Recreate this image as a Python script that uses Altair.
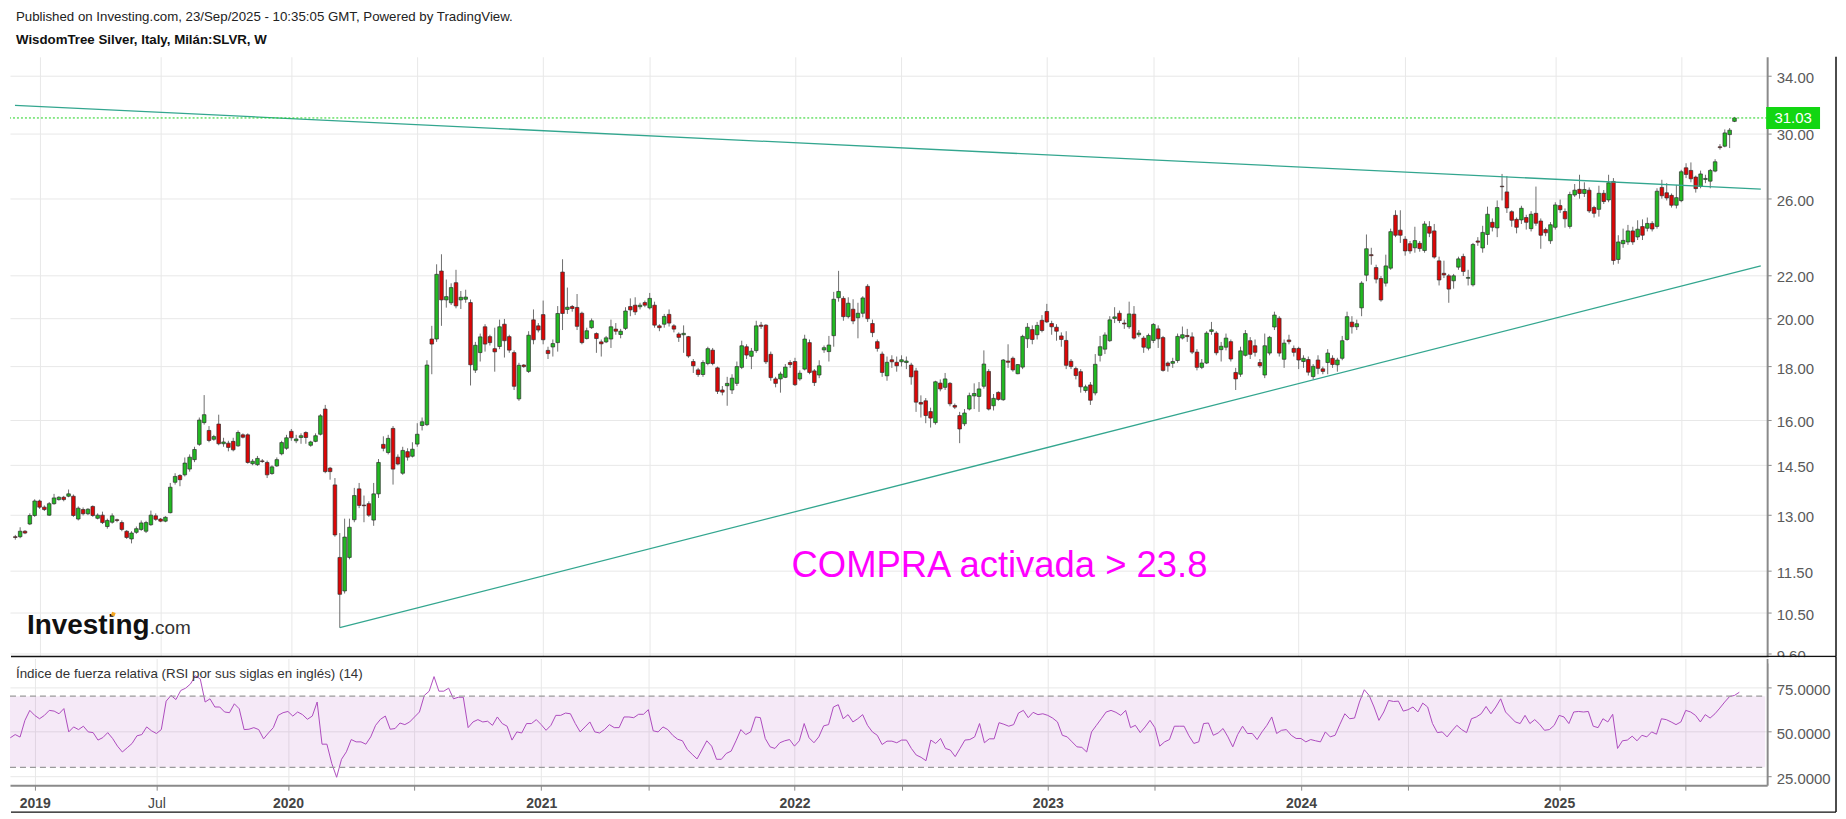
import altair as alt
import pandas as pd

# ---------------- data ----------------
FIRST_WEEK = "2018-12-03"

OPEN = [
    12.40, 12.40, 12.55, 12.75, 12.99, 13.41, 13.23, 13.00, 13.33, 13.45,
    13.52, 13.55, 13.55, 12.89, 13.16, 13.04, 13.25, 12.91, 13.00, 12.68,
    12.80, 12.87, 12.79, 12.55, 12.34, 12.52, 12.60, 12.55, 12.73, 12.98,
    12.89, 12.83, 13.07, 13.97, 14.18, 14.20, 14.38, 14.68, 15.18, 15.92,
    15.65, 15.35, 15.87, 15.20, 15.22, 15.28, 15.13, 15.50, 15.50, 14.55,
    14.52, 14.64, 14.59, 14.24, 14.48, 14.87, 15.05, 15.62, 15.30, 15.41,
    15.58, 15.15, 15.28, 15.52, 16.40, 14.41, 13.89, 11.85, 11.01, 11.85,
    12.87, 13.77, 13.29, 13.33, 12.86, 13.62, 15.18, 14.91, 15.72, 14.76,
    14.25, 14.94, 14.79, 15.19, 15.82, 15.85, 19.12, 19.12, 22.19, 20.83,
    20.70, 21.63, 20.83, 20.86, 20.71, 17.86, 18.56, 19.64, 19.22, 18.72,
    18.81, 19.75, 19.22, 18.56, 16.77, 18.06, 17.81, 19.94, 19.68, 20.17,
    18.65, 18.79, 18.97, 22.14, 20.40, 20.53, 20.49, 20.23, 19.14, 19.60,
    19.35, 19.00, 19.00, 19.12, 19.54, 19.31, 19.57, 20.53, 20.59, 20.52,
    20.71, 20.47, 20.59, 19.68, 19.75, 20.18, 19.68, 19.33, 19.30, 19.22,
    18.20, 17.87, 17.69, 18.12, 18.66, 17.95, 17.10, 17.26, 17.10, 17.35,
    17.97, 18.80, 18.41, 18.64, 19.71, 19.71, 18.49, 17.52, 17.52, 17.58,
    18.16, 18.20, 17.52, 17.90, 18.97, 17.83, 17.67, 18.67, 18.60, 19.26,
    20.93, 20.90, 20.08, 20.41, 20.03, 20.23, 21.46, 19.78, 19.01, 18.50,
    17.64, 18.27, 18.17, 18.19, 18.16, 18.06, 17.83, 16.64, 16.70, 16.31,
    15.92, 17.36, 17.20, 17.35, 16.53, 16.17, 15.88, 16.40, 16.88, 16.86,
    17.24, 17.81, 16.52, 17.01, 16.74, 18.22, 18.33, 17.72, 17.98, 19.13,
    19.52, 19.30, 19.92, 20.31, 19.78, 19.62, 19.25, 19.06, 18.21, 17.92,
    17.80, 17.08, 17.29, 16.99, 18.45, 18.70, 19.05, 20.00, 20.23, 19.80,
    19.64, 20.19, 19.30, 19.16, 18.74, 19.06, 19.55, 19.18, 18.14, 18.13,
    18.24, 19.16, 19.27, 19.21, 18.58, 17.97, 18.14, 19.44, 19.37, 18.68,
    18.78, 19.01, 17.77, 17.70, 18.45, 19.05, 18.84, 18.16, 17.67, 18.54,
    19.63, 20.01, 18.29, 19.08, 18.73, 18.73, 18.20, 18.28, 17.61, 18.26,
    17.91, 18.16, 18.33, 18.07, 18.33, 19.10, 19.84, 19.64, 20.47, 21.99,
    23.00, 22.36, 21.83, 21.61, 22.33, 25.07, 24.27, 23.79, 23.56, 23.35,
    23.58, 23.21, 24.46, 24.23, 22.69, 22.08, 21.96, 21.72, 22.38, 22.91,
    21.84, 21.53, 23.70, 23.34, 24.04, 24.69, 24.39, 26.72, 26.39, 25.27,
    24.85, 24.82, 24.95, 24.35, 25.18, 24.76, 24.30, 23.71, 24.42, 25.61,
    25.28, 24.47, 26.21, 26.54, 26.30, 26.49, 25.50, 25.40, 26.31, 25.93,
    27.00, 22.76, 23.56, 23.65, 24.23, 23.91, 24.46, 24.37, 24.63, 24.47,
    26.65, 26.34, 26.19, 25.63, 25.89, 27.82, 27.66, 27.26, 26.71, 27.12,
    27.02, 27.62, 29.13, 29.17, 29.92, 30.80,
]

HIGH = [
    12.45, 12.66, 12.58, 13.05, 13.46, 13.45, 13.28, 13.38, 13.62, 13.55,
    13.56, 13.75, 13.60, 13.25, 13.22, 13.20, 13.28, 13.05, 13.10, 12.90,
    13.05, 12.90, 12.85, 12.58, 12.55, 12.68, 12.85, 12.84, 13.13, 13.05,
    12.92, 12.97, 13.95, 14.25, 14.22, 14.75, 14.85, 15.10, 16.10, 16.91,
    15.80, 15.50, 16.20, 15.40, 15.30, 15.40, 15.65, 15.55, 15.55, 14.70,
    14.80, 14.70, 14.65, 14.50, 14.75, 15.30, 15.50, 15.70, 15.50, 15.55,
    15.62, 15.30, 15.55, 16.22, 16.55, 14.45, 14.10, 12.50, 12.90, 12.90,
    13.80, 13.95, 13.57, 13.40, 13.95, 14.70, 15.45, 15.50, 15.80, 14.85,
    15.10, 15.05, 15.25, 15.90, 16.10, 18.25, 19.68, 22.52, 23.02, 21.78,
    21.60, 22.25, 21.24, 21.30, 20.85, 19.00, 19.35, 19.75, 19.30, 19.60,
    19.95, 19.98, 19.30, 18.65, 18.15, 18.10, 19.45, 20.40, 19.80, 20.80,
    18.80, 19.10, 20.55, 22.77, 21.40, 20.60, 21.10, 20.30, 19.60, 20.00,
    19.40, 19.10, 19.25, 19.95, 19.80, 19.55, 20.50, 20.90, 20.95, 20.70,
    20.80, 21.15, 20.75, 19.75, 20.20, 20.40, 19.75, 19.40, 19.70, 19.25,
    18.30, 17.95, 18.25, 18.80, 18.75, 18.00, 17.25, 17.60, 17.70, 18.20,
    19.05, 18.90, 18.75, 19.90, 19.85, 19.75, 18.60, 17.60, 17.80, 18.10,
    18.25, 18.35, 17.85, 19.30, 19.10, 17.90, 18.25, 18.85, 19.25, 21.20,
    22.20, 21.00, 20.95, 20.86, 20.70, 21.00, 21.56, 19.95, 19.10, 18.60,
    18.40, 18.45, 18.40, 18.45, 18.40, 18.15, 17.95, 16.90, 16.80, 16.45,
    17.45, 17.50, 17.75, 17.40, 16.60, 16.30, 16.40, 17.00, 17.35, 17.40,
    18.65, 17.90, 16.95, 17.05, 18.30, 18.90, 18.40, 18.10, 19.30, 19.80,
    19.70, 19.85, 20.15, 20.65, 19.90, 19.75, 19.40, 19.45, 18.30, 18.00,
    17.90, 17.30, 17.40, 18.50, 19.25, 19.40, 20.10, 20.50, 20.35, 19.95,
    20.75, 20.55, 19.50, 19.25, 19.35, 19.80, 19.70, 19.25, 18.20, 18.35,
    19.35, 19.65, 19.55, 19.40, 18.70, 18.30, 19.45, 19.85, 19.45, 19.00,
    19.35, 19.10, 17.95, 18.80, 19.50, 19.20, 19.10, 18.30, 19.35, 19.25,
    20.30, 20.10, 19.10, 19.30, 18.85, 18.80, 18.45, 18.40, 18.10, 18.45,
    18.00, 18.70, 18.45, 18.35, 19.25, 20.30, 20.10, 19.95, 21.70, 24.04,
    23.35, 22.50, 21.95, 23.00, 24.35, 25.35, 25.35, 23.95, 23.70, 24.45,
    23.70, 24.75, 24.75, 24.60, 22.90, 22.70, 22.05, 22.05, 22.90, 23.05,
    22.25, 23.60, 23.90, 24.50, 25.55, 24.90, 25.90, 27.45, 27.32, 25.35,
    24.95, 25.60, 25.10, 25.30, 26.70, 24.90, 24.40, 24.70, 25.80, 25.95,
    25.45, 26.40, 26.85, 27.40, 26.95, 26.65, 25.60, 26.75, 26.50, 27.40,
    27.20, 24.00, 24.35, 24.55, 24.45, 24.80, 24.85, 24.95, 24.75, 26.60,
    27.10, 26.90, 26.30, 26.80, 27.70, 28.10, 28.15, 27.35, 27.65, 27.40,
    27.75, 28.35, 29.30, 30.26, 30.35, 31.10,
]

LOW = [
    12.32, 12.36, 12.47, 12.72, 12.95, 13.18, 13.12, 12.98, 13.30, 13.42,
    13.40, 13.52, 12.95, 12.85, 12.99, 13.00, 12.95, 12.88, 12.75, 12.62,
    12.76, 12.80, 12.55, 12.34, 12.22, 12.48, 12.56, 12.50, 12.70, 12.84,
    12.80, 12.80, 13.05, 13.90, 13.85, 14.15, 14.30, 14.60, 15.13, 15.85,
    15.25, 15.30, 15.15, 15.10, 14.95, 14.95, 15.10, 15.38, 14.55, 14.50,
    14.48, 14.58, 14.10, 14.20, 14.45, 14.82, 15.00, 15.30, 15.22, 15.20,
    15.20, 15.10, 15.25, 15.48, 14.25, 14.05, 12.40, 10.16, 10.95, 11.80,
    12.80, 13.20, 12.80, 12.95, 12.70, 13.50, 14.95, 14.85, 13.90, 14.50,
    14.20, 14.65, 14.75, 15.10, 15.65, 15.80, 17.70, 19.00, 19.68, 20.48,
    20.60, 20.45, 20.42, 20.70, 17.27, 17.75, 18.20, 18.60, 18.85, 17.80,
    18.70, 18.36, 18.55, 17.10, 16.70, 17.95, 17.75, 18.90, 19.40, 18.90,
    18.30, 18.40, 18.60, 19.50, 20.20, 20.30, 19.50, 18.90, 19.10, 19.55,
    18.55, 18.40, 18.95, 18.75, 19.30, 19.15, 19.50, 20.10, 20.15, 20.40,
    20.50, 20.40, 19.60, 19.45, 19.60, 19.65, 19.40, 19.00, 18.55, 18.35,
    17.75, 17.60, 17.60, 18.05, 18.05, 16.95, 16.90, 16.52, 16.95, 17.25,
    17.90, 18.30, 17.90, 18.55, 19.55, 18.10, 17.45, 17.20, 17.00, 17.55,
    17.95, 17.25, 17.45, 17.85, 17.70, 17.25, 17.55, 18.55, 18.20, 18.80,
    20.75, 19.90, 20.00, 19.75, 19.15, 20.05, 19.85, 19.20, 18.60, 17.60,
    17.45, 17.95, 17.80, 18.00, 17.90, 17.30, 16.30, 16.10, 15.90, 15.75,
    15.85, 17.05, 17.10, 16.50, 16.40, 15.22, 15.80, 16.35, 16.40, 16.30,
    17.15, 16.35, 16.35, 16.70, 16.70, 17.95, 17.80, 17.70, 17.90, 18.75,
    18.90, 19.10, 19.40, 19.80, 19.30, 19.05, 18.80, 17.90, 17.90, 17.50,
    17.00, 17.00, 16.55, 16.90, 18.20, 18.50, 19.00, 19.80, 19.80, 19.55,
    19.55, 19.10, 19.20, 18.55, 18.65, 18.95, 18.75, 17.80, 17.80, 17.95,
    18.15, 19.10, 19.00, 18.50, 17.85, 17.90, 18.10, 19.30, 18.45, 18.20,
    18.65, 18.20, 17.10, 17.60, 18.40, 18.30, 18.40, 17.95, 17.55, 18.45,
    19.50, 18.40, 17.95, 18.90, 18.40, 17.90, 17.95, 17.65, 17.50, 17.70,
    17.70, 17.70, 17.95, 17.80, 18.25, 19.05, 19.35, 19.50, 20.10, 21.70,
    22.50, 21.60, 20.75, 21.45, 22.25, 23.90, 23.60, 22.95, 23.05, 23.10,
    23.15, 23.10, 23.90, 22.80, 21.50, 21.85, 20.70, 21.35, 22.25, 21.95,
    21.50, 21.45, 23.45, 23.10, 23.50, 24.20, 23.90, 25.90, 25.20, 24.45,
    24.10, 24.60, 24.30, 24.20, 24.50, 23.30, 23.95, 23.55, 24.30, 25.20,
    24.40, 24.35, 26.10, 26.00, 26.10, 25.20, 24.95, 25.00, 25.70, 25.80,
    22.50, 22.55, 23.35, 23.50, 23.50, 23.75, 23.75, 24.20, 24.20, 24.35,
    26.00, 25.90, 25.50, 25.45, 25.80, 27.20, 26.95, 26.35, 26.60, 26.90,
    26.60, 27.55, 28.95, 29.10, 29.05, 30.75,
]

CLOSE = [
    12.38, 12.55, 12.50, 12.99, 13.41, 13.23, 13.16, 13.33, 13.50, 13.52,
    13.45, 13.62, 12.99, 13.20, 13.04, 13.17, 12.99, 13.00, 12.79, 12.85,
    12.98, 12.85, 12.60, 12.38, 12.50, 12.62, 12.78, 12.79, 13.00, 12.88,
    12.83, 12.94, 13.82, 14.15, 14.05, 14.57, 14.76, 15.01, 16.01, 16.20,
    15.31, 15.44, 15.20, 15.26, 15.08, 15.00, 15.58, 15.42, 14.59, 14.63,
    14.72, 14.62, 14.20, 14.45, 14.68, 15.24, 15.40, 15.40, 15.36, 15.47,
    15.41, 15.26, 15.47, 16.16, 14.30, 14.30, 12.45, 10.93, 12.39, 12.66,
    13.57, 13.28, 13.27, 13.00, 13.62, 14.59, 15.05, 15.38, 14.38, 14.54,
    14.98, 14.76, 15.02, 15.52, 15.95, 18.06, 18.91, 22.03, 20.83, 20.98,
    21.40, 20.56, 20.95, 20.96, 18.07, 18.86, 19.21, 18.91, 18.97, 18.59,
    19.64, 19.05, 18.66, 17.24, 18.05, 18.00, 19.28, 19.09, 19.50, 19.09,
    18.52, 18.93, 20.22, 20.22, 20.50, 20.44, 19.66, 18.97, 19.47, 19.90,
    19.14, 18.92, 19.17, 19.64, 19.45, 19.45, 20.33, 20.38, 20.29, 20.59,
    20.59, 20.90, 19.71, 19.60, 20.09, 19.80, 19.54, 19.19, 19.36, 18.42,
    18.03, 17.69, 18.16, 18.72, 18.12, 17.05, 17.02, 17.35, 17.55, 18.00,
    18.84, 18.46, 18.62, 19.68, 19.66, 18.19, 17.57, 17.35, 17.71, 17.98,
    18.08, 17.30, 17.74, 19.12, 17.77, 17.38, 18.03, 18.76, 18.87, 20.86,
    21.22, 20.08, 20.68, 19.89, 20.23, 20.92, 19.99, 19.39, 18.73, 17.77,
    18.17, 18.19, 18.03, 18.27, 18.22, 17.60, 16.65, 16.58, 16.17, 16.08,
    17.41, 17.14, 17.52, 16.59, 16.47, 15.70, 16.26, 16.89, 16.97, 17.14,
    18.10, 16.40, 16.79, 16.75, 18.26, 18.17, 17.87, 18.08, 19.23, 19.62,
    19.10, 19.70, 19.48, 19.85, 19.64, 19.45, 19.10, 18.05, 18.00, 17.65,
    17.22, 17.22, 16.72, 18.09, 18.80, 19.29, 19.94, 20.07, 19.91, 19.76,
    20.20, 19.16, 19.37, 18.78, 19.27, 19.74, 19.13, 17.85, 18.03, 18.20,
    19.23, 19.30, 19.22, 18.58, 17.97, 18.14, 19.37, 19.51, 18.55, 18.82,
    19.16, 18.30, 17.52, 18.63, 19.35, 18.49, 18.57, 18.03, 18.84, 19.19,
    20.15, 18.54, 18.95, 19.01, 18.57, 18.26, 18.33, 17.78, 18.01, 17.93,
    17.81, 18.54, 18.08, 18.26, 19.05, 20.08, 19.64, 19.77, 21.61, 23.30,
    22.95, 21.80, 20.83, 22.44, 24.19, 24.00, 24.00, 23.19, 23.19, 23.72,
    23.31, 24.60, 24.11, 22.88, 21.76, 22.00, 21.33, 21.96, 22.79, 22.17,
    21.88, 23.52, 23.64, 24.15, 25.13, 24.42, 25.50, 26.69, 25.48, 24.80,
    24.42, 25.46, 24.69, 25.13, 24.64, 24.00, 24.13, 24.56, 25.65, 25.38,
    24.88, 26.24, 26.49, 26.30, 26.53, 25.31, 25.18, 26.31, 25.84, 26.92,
    22.71, 23.65, 23.73, 24.23, 23.65, 24.32, 24.00, 24.63, 24.33, 26.43,
    26.17, 26.04, 25.63, 26.06, 27.58, 27.42, 27.16, 26.58, 27.45, 27.18,
    27.66, 28.19, 29.08, 30.03, 30.21, 31.03,
]

RSI = [
    46.6, 48.4, 47.0, 56.4, 62.0, 59.2, 57.3, 59.2, 62.0, 61.6,
    60.1, 63.0, 49.9, 52.7, 51.2, 53.1, 49.9, 49.5, 45.3, 46.7,
    49.5, 46.2, 41.9, 38.6, 41.0, 43.4, 47.7, 48.4, 52.7, 50.5,
    49.0, 51.2, 67.2, 70.4, 68.1, 73.2, 74.5, 76.9, 81.5, 79.7,
    66.7, 68.5, 63.9, 63.9, 61.1, 60.7, 65.7, 62.9, 51.2, 51.4,
    52.3, 51.2, 46.0, 49.3, 52.3, 59.2, 60.7, 61.4, 58.8, 61.1,
    59.6, 57.0, 58.8, 66.7, 43.0, 43.0, 32.2, 24.4, 34.5, 38.7,
    45.6, 44.3, 44.3, 43.0, 47.1, 53.6, 57.0, 58.8, 51.4, 51.8,
    54.9, 54.0, 55.5, 58.3, 61.1, 70.4, 72.8, 81.0, 72.8, 72.8,
    74.5, 68.5, 69.4, 69.4, 52.3, 55.5, 56.8, 55.5, 55.9, 53.6,
    58.3, 54.6, 53.1, 45.3, 49.9, 49.3, 54.6, 54.6, 56.8, 54.0,
    50.8, 53.6, 59.2, 59.2, 60.5, 60.1, 54.6, 49.9, 52.7, 55.5,
    49.9, 49.3, 51.2, 54.0, 52.3, 52.3, 58.3, 58.3, 57.9, 59.8,
    59.8, 62.4, 50.5, 49.9, 52.7, 51.2, 48.0, 45.8, 44.9, 40.0,
    37.3, 34.7, 39.7, 44.9, 41.9, 34.5, 34.5, 37.8, 39.1, 44.9,
    51.2, 48.4, 49.9, 58.3, 57.9, 46.2, 41.5, 40.6, 43.8, 44.9,
    45.6, 41.9, 44.9, 54.6, 46.6, 43.8, 47.1, 53.3, 54.0, 63.9,
    65.2, 57.3, 59.6, 55.5, 57.3, 59.6, 53.6, 49.9, 48.0, 42.8,
    44.7, 44.7, 43.8, 45.3, 45.3, 40.6, 36.9,
    35.6, 33.7, 45.3, 43.4, 46.2, 40.6, 39.7, 36.0, 40.6, 45.3,
    45.6, 47.1, 54.6, 43.8, 46.0, 46.0, 55.1, 54.2, 53.1, 54.0,
    60.5, 62.0, 57.9, 60.9, 59.6, 60.1, 59.2, 57.7, 55.5, 48.0,
    47.1, 44.3, 41.5, 41.2, 38.6, 49.9, 53.6, 57.3, 61.1, 62.0,
    60.9, 59.2, 62.0, 52.3, 53.6, 49.5, 52.7, 56.4, 52.3, 41.9,
    44.3, 45.6, 53.1, 53.1, 53.1, 47.7, 43.4, 44.3, 54.6, 54.9,
    48.0, 49.3, 51.8, 47.1, 41.5, 48.4, 53.1, 49.0, 49.0, 45.6,
    49.9, 53.6, 58.3, 49.0, 50.8, 51.2, 48.0, 46.2, 46.2, 44.3,
    45.6, 44.9, 44.3, 49.9, 47.1, 48.0, 54.2, 60.1, 57.3, 57.7,
    66.7, 73.6, 70.4, 63.9, 56.4, 61.1, 67.6, 67.0, 67.2, 61.6,
    62.4, 63.9, 61.1, 66.1, 63.9, 54.6, 49.5, 49.9, 47.1, 50.5,
    53.6, 51.2, 49.5, 57.3, 58.3, 60.1, 64.2, 60.1, 63.9, 68.5,
    61.1, 58.3, 55.5, 54.6, 59.2, 54.6, 56.8, 54.2, 50.8, 51.2,
    53.6, 59.2, 58.3, 54.6, 61.1, 61.4, 61.1, 61.4, 53.1, 52.3,
    57.3, 55.5, 59.8, 40.6, 44.9, 45.3, 47.5, 44.9, 48.0, 47.1,
    49.9, 48.6, 57.3, 56.8, 55.5, 54.0, 55.5, 62.0, 61.1, 59.2,
    55.5, 59.6, 57.7, 60.1, 63.3, 66.7, 69.8, 70.4, 72.2,
]

PRICE_TICKS = [9.6, 10.5, 11.5, 13, 14.5, 16, 18, 20, 22, 26, 30, 34]
RSI_TICKS = [25, 50, 75]
RSI_BANDS = [30, 70]
TIME_TICKS = ["2019-01-07", "2019-07-01", "2020-01-06", "2020-07-06",
              "2021-01-04", "2021-06-07", "2022-01-03", "2022-06-06",
              "2023-01-02", "2023-06-05", "2024-01-01", "2024-06-03",
              "2025-01-06", "2025-07-07"]

TREND_LINE = ["upper", "upper", "lower", "lower"]
TREND_DATE = ["2018-12-02T13:00:00Z", "2025-10-30", "2020-03-16", "2025-10-30"]
TREND_PRICE = [31.90, 26.55, 10.16, 22.44]

HEADER_1 = "Published on Investing.com, 23/Sep/2025 - 10:35:05 GMT, Powered by TradingView."
HEADER_2 = "WisdomTree Silver, Italy, Milán:SLVR, W"
RSI_TITLE = "Índice de fuerza relativa (RSI por sus siglas en inglés) (14)"
NOTE = "COMPRA activada > 23.8"

# ---------------- styling ----------------
FONT = "Liberation Sans"
GREEN = "#22b922"
RED = "#dc0606"
TEAL = "#33a68f"
GRID = "#e8e8e8"
AXIS_GREY = "#8a8a8a"
W = 1761
H_PRICE = 601
H_RSI = 127

n = len(CLOSE)
weeks = pd.date_range(FIRST_WEEK, periods=n, freq="7D").strftime("%Y-%m-%d")
candles = pd.DataFrame({"date": weeks, "open": OPEN[:n], "high": HIGH[:n],
                        "low": LOW[:n], "close": CLOSE[:n]})
rsi_df = pd.DataFrame({"date": weeks[:len(RSI)], "rsi": RSI[:n]})
trend_df = pd.DataFrame({"line": TREND_LINE, "date": TREND_DATE, "price": TREND_PRICE})
last_df = pd.DataFrame({"price": [CLOSE[-1]], "label": [f"{CLOSE[-1]:.2f}"]})
one = pd.DataFrame({"k": [0]})


def to_dt(s):
    y, m, d = s.split("-")
    return alt.DateTime(year=int(y), month=int(m), date=int(d), utc=True)


tick_dt = [to_dt(s) for s in TIME_TICKS]
x_scale = alt.Scale(type="utc", domain=[
    alt.DateTime(year=2018, month=12, date=2, hours=13, utc=True),
    alt.DateTime(year=2025, month=11, date=1, utc=True)])
y_scale = alt.Scale(type="log", domain=[9.539, 35.48], nice=False, zero=False)
r_scale = alt.Scale(domain=[19.94, 91.2], nice=False, zero=False)

x_axis_price = alt.Axis(values=tick_dt, grid=True, gridColor=GRID, labels=False,
                        ticks=False, domain=False, title=None)
x_axis_rsi = alt.Axis(
    values=tick_dt, grid=True, gridColor=GRID, title=None,
    labelExpr="utcmonth(datum.value) == 0 ? utcFormat(datum.value, '%Y') : "
              "(utcyear(datum.value) == 2019 ? 'Jul' : '')",
    labelFontWeight={"condition": {"test": "utcmonth(datum.value) == 0", "value": "bold"},
                     "value": "normal"},
    labelFont=FONT, labelFontSize=14, labelColor="#444", labelPadding=6,
    labelOverlap=False, tickSize=5, tickColor=AXIS_GREY, domainColor=AXIS_GREY,
    domainWidth=2)
price_axis = alt.Axis(orient="right", values=PRICE_TICKS, format=".2f", grid=True,
                      gridColor=GRID, labelFont=FONT, labelFontSize=15,
                      labelColor="#5a5a5a", tickSize=4, tickColor=AXIS_GREY,
                      domainColor=AXIS_GREY, domainWidth=2, labelPadding=5,
                      labelOffset=1.5, labelOverlap=False, title=None)
rsi_axis = alt.Axis(orient="right", values=RSI_TICKS, format=".4f", grid=True,
                    gridColor=GRID, labelFont=FONT, labelFontSize=15,
                    labelColor="#5a5a5a", tickSize=4, tickColor=AXIS_GREY,
                    domainColor=AXIS_GREY, domainWidth=2, labelPadding=5,
                    labelOffset=2, labelOverlap=False, title=None)


def PX(field="date:T"):
    return alt.X(field, scale=x_scale, axis=x_axis_price)


def PY(field):
    return alt.Y(field, scale=y_scale, axis=price_axis)


wicks = alt.Chart(candles).mark_rule(color="#6e6e6e", strokeWidth=1, clip=True).encode(
    x=PX(), y=PY("low:Q"), y2="high:Q")
bodies = alt.Chart(candles).mark_bar(size=3.6, stroke="#2e2e2e", strokeWidth=0.7,
                                     clip=True).encode(
    x=PX(), y=PY("open:Q"), y2="close:Q",
    fill=alt.condition("datum.open <= datum.close", alt.value(GREEN), alt.value(RED)))
trend = alt.Chart(trend_df).mark_line(color=TEAL, strokeWidth=1.3, clip=True).encode(
    x=PX(), y=PY("price:Q"), detail="line:N")
last_line = alt.Chart(last_df).mark_rule(color="#1ed31e", strokeDash=[2, 2],
                                         strokeWidth=1).encode(y=PY("price:Q"))
last_box = alt.Chart(last_df).mark_point(
    shape="M-1,-0.41L1,-0.41L1,0.41L-1,0.41Z", size=2916, filled=True,
    color="#12d612", opacity=1).encode(x=alt.value(1787), y=PY("price:Q"))
last_txt = alt.Chart(last_df).mark_text(color="white", font=FONT, fontSize=15).encode(
    x=alt.value(1787), y=PY("price:Q"), text="label:N")
note = alt.Chart(one).mark_text(color="#ff00ff", font=FONT, fontSize=36.5, align="left",
                                baseline="middle").encode(
    x=alt.X(datum=alt.DateTime(year=2021, month=12, date=29, utc=True),
            scale=x_scale, axis=x_axis_price),
    y=alt.Y(datum=11.64, scale=y_scale, axis=price_axis), text=alt.value(NOTE))
head1 = alt.Chart(one).mark_text(font=FONT, fontSize=13.3, color="#222", align="left",
                                 baseline="middle").encode(
    x=alt.value(6), y=alt.value(-40), text=alt.value(HEADER_1))
head2 = alt.Chart(one).mark_text(font=FONT, fontSize=13.3, fontWeight="bold", color="#111",
                                 align="left", baseline="middle").encode(
    x=alt.value(6), y=alt.value(-17), text=alt.value(HEADER_2))
logo1 = alt.Chart(one).mark_text(font=FONT, fontSize=28, fontWeight="bold", color="#111",
                                 align="left", baseline="alphabetic").encode(
    x=alt.value(17), y=alt.value(578), text=alt.value("Investing"))
logo2 = alt.Chart(one).mark_text(font=FONT, fontSize=19, color="#333", align="left",
                                 baseline="alphabetic").encode(
    x=alt.value(140), y=alt.value(578), text=alt.value(".com"))
logo_dot = alt.Chart(one).mark_point(shape="square", size=14, filled=True, color="#f5a623",
                                     opacity=1, angle=20).encode(
    x=alt.value(103.5), y=alt.value(558.5))
sep = alt.Chart(one).mark_rule(color="#111", strokeWidth=1.5).encode(
    x=alt.value(1), x2=alt.value(1830), y=alt.value(H_PRICE))
right_frame = alt.Chart(one).mark_rule(color="#111", strokeWidth=1.5).encode(
    x=alt.value(1830), y=alt.value(0), y2=alt.value(H_PRICE))

price = alt.layer(wicks, bodies, trend, last_line, note, logo1, logo2, logo_dot,
                  head1, head2, sep, right_frame, last_box, last_txt).properties(
    width=W, height=H_PRICE)


def RX(field="date:T"):
    return alt.X(field, scale=x_scale, axis=x_axis_rsi)


band = alt.Chart(one).mark_rect(color="#9c27b0", opacity=0.1).encode(
    x=alt.value(0), x2=alt.value(W - 2),
    y=alt.Y(datum=RSI_BANDS[1], scale=r_scale, axis=rsi_axis),
    y2=alt.Y2(datum=RSI_BANDS[0]))
band_lines = alt.Chart(pd.DataFrame({"v": RSI_BANDS})).mark_rule(
    color="#9a9a9a", strokeDash=[6, 4], strokeWidth=1.3).encode(
    y=alt.Y("v:Q", scale=r_scale, axis=rsi_axis), x=alt.value(0), x2=alt.value(W - 2))
rsi_line = alt.Chart(rsi_df).mark_line(color="#b050c0", strokeWidth=1, clip=True).encode(
    x=RX(), y=alt.Y("rsi:Q", scale=r_scale, axis=rsi_axis))
rsi_title = alt.Chart(one).mark_text(font=FONT, fontSize=13.4, color="#333", align="left",
                                     baseline="middle").encode(
    x=alt.value(6), y=alt.value(16), text=alt.value(RSI_TITLE))
cover = alt.Chart(one).mark_rect(color="white", opacity=1).encode(
    x=alt.value(W + 1.5), x2=alt.value(1829), y=alt.value(-1.2), y2=alt.value(5))
bottom_frame = alt.Chart(one).mark_rule(color="#111", strokeWidth=1.5).encode(
    x=alt.value(1), x2=alt.value(1830), y=alt.value(154))
right_frame2 = alt.Chart(one).mark_rule(color="#111", strokeWidth=1.5).encode(
    x=alt.value(1830), y=alt.value(-2), y2=alt.value(154))

rsi = alt.layer(rsi_line, band, band_lines, rsi_title, cover, bottom_frame,
                right_frame2).properties(width=W, height=H_RSI)

chart = alt.vconcat(price, rsi, spacing=2, bounds="flush").properties(
    padding={"left": 0, "top": 0, "right": 0, "bottom": 0},
    background="white").configure_view(stroke="transparent")

chart.save("out.html", embed_options={"renderer": "svg", "actions": False})
